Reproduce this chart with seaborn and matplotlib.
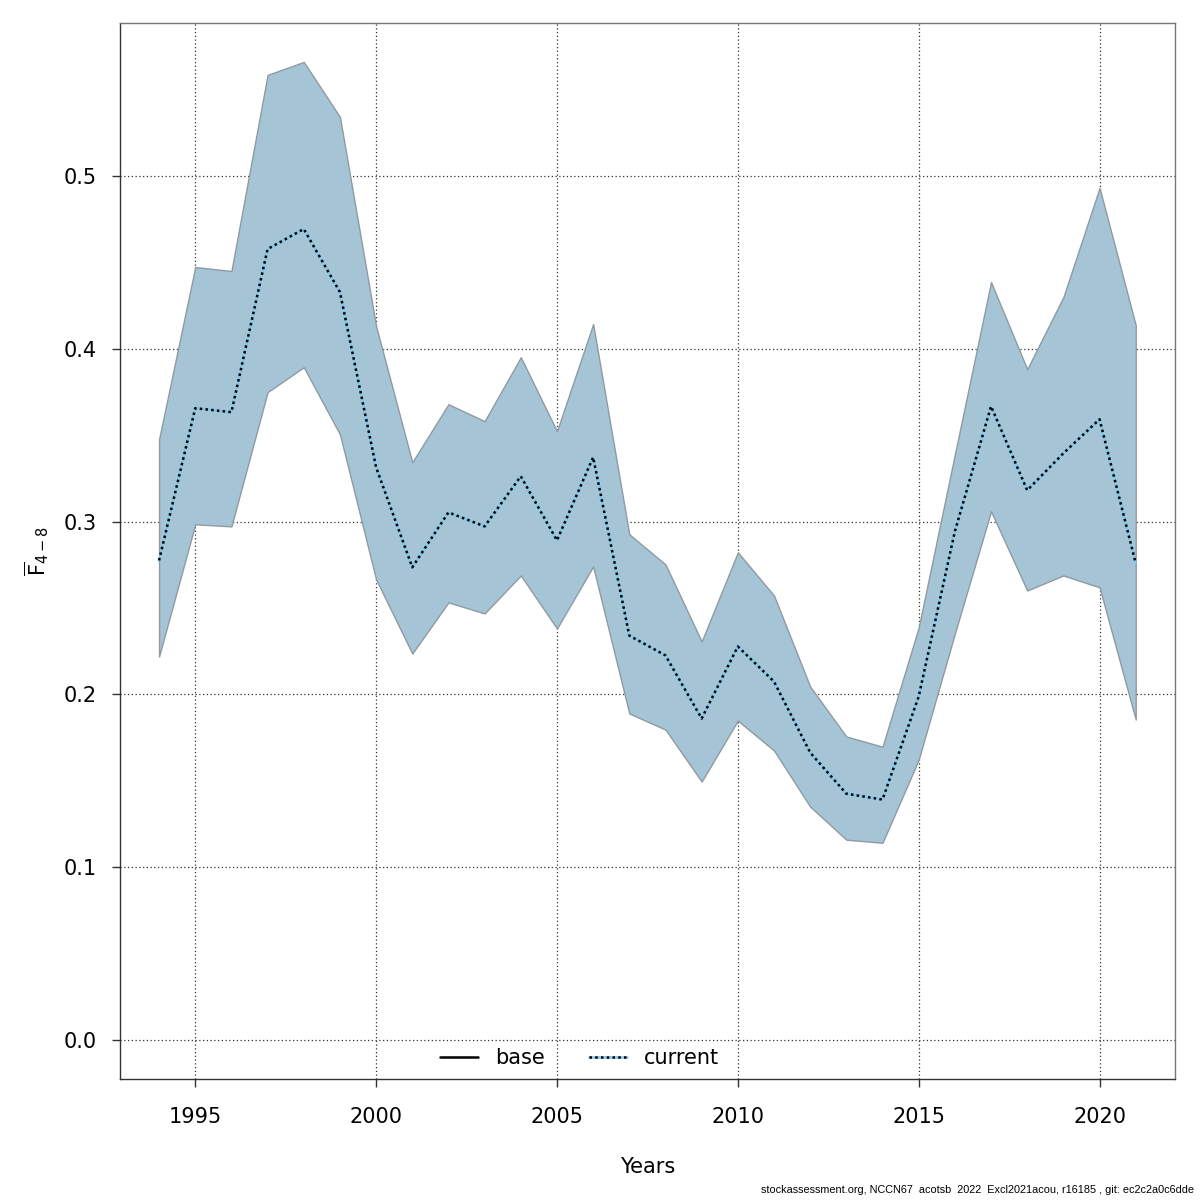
import numpy as np
import pandas as pd
import matplotlib
matplotlib.use("Agg")
import matplotlib.pyplot as plt
import seaborn as sns
from matplotlib.lines import Line2D

years = list(range(1994, 2022))
median = [0.2775, 0.3656, 0.3633, 0.4577, 0.4693, 0.4328, 0.3314, 0.2735,
          0.3053, 0.2972, 0.3262, 0.2891, 0.3372, 0.2340, 0.2225, 0.1860,
          0.2277, 0.2074, 0.1663, 0.1425, 0.1391, 0.1987, 0.2943, 0.3667,
          0.3181, 0.3395, 0.3592, 0.2758]
upper = [0.3476, 0.4473, 0.4450, 0.5585, 0.5660, 0.5342, 0.4131, 0.3343,
         0.3679, 0.3581, 0.3951, 0.3523, 0.4143, 0.2926, 0.2752, 0.2306,
         0.2822, 0.2572, 0.2045, 0.1756, 0.1697, 0.2387, 0.3389, 0.4386,
         0.3882, 0.4299, 0.4931, 0.4137]
lower = [0.2219, 0.2984, 0.2972, 0.3749, 0.3893, 0.3505, 0.2665, 0.2236,
         0.2532, 0.2468, 0.2688, 0.2381, 0.2740, 0.1889, 0.1796, 0.1495,
         0.1848, 0.1675, 0.1350, 0.1159, 0.1141, 0.1622, 0.2352, 0.3059,
         0.2601, 0.2688, 0.2619, 0.1854]
xticks = [1995, 2000, 2005, 2010, 2015, 2020]
yticks = [0.0, 0.1, 0.2, 0.3, 0.4, 0.5]

df = pd.DataFrame({"year": years, "median": median, "upper": upper, "lower": lower})

sns.set_theme(style="white")
plt.rcParams['font.family'] = ['DejaVu Sans']
plt.rcParams['text.color'] = 'black'
plt.rcParams['axes.labelcolor'] = 'black'

fig = plt.figure(figsize=(12, 12), dpi=100)
ax = fig.add_axes([0.1, 0.1008, 0.879, 0.8802])

ax.fill_between(df["year"], df["lower"], df["upper"], facecolor="#a5c4d5",
                edgecolor="#8f9ba3", linewidth=1.0, zorder=2)
sns.lineplot(data=df, x="year", y="median", ax=ax, color="#7ec8ea",
             linewidth=1.8, zorder=3, legend=False)
sns.lineplot(data=df, x="year", y="median", ax=ax, color="black",
             linewidth=1.8, linestyle=(0, (1.0, 1.3)), zorder=4, legend=False)

xmin, xmax = 1994 - 0.04 * 27, 2021 + 0.04 * 27
ymax_data = max(upper)
ax.set_xlim(xmin, xmax)
ax.set_ylim(-0.04 * ymax_data, ymax_data * 1.04)

ax.set_xticks(xticks)
ax.set_xticklabels([str(v) for v in xticks])
ax.set_yticks(yticks)
ax.set_yticklabels([f"{v:.1f}" for v in yticks])
ax.tick_params(axis="both", which="major", labelsize=15, length=6, width=1,
               direction="out", color="#333333", labelcolor="black",
               bottom=True, left=True)
ax.tick_params(axis="x", pad=14)
ax.tick_params(axis="y", pad=11)

ax.grid(True, color="#333333", linestyle=(0, (1, 2)), linewidth=0.9, zorder=1)
ax.set_axisbelow(True)

for side in ["left", "bottom"]:
    ax.spines[side].set_color("#333333")
    ax.spines[side].set_linewidth(1.0)
for side in ["top", "right"]:
    ax.spines[side].set_color("#777777")
    ax.spines[side].set_linewidth(1.0)
    ax.spines[side].set_visible(True)

ax.set_xlabel("Years", fontsize=15, labelpad=22)
ax.set_ylabel(r"$\overline{\mathrm{F}}_{4-8}$", fontsize=15, labelpad=9)

h_base = Line2D([], [], color="black", linewidth=1.8)
h_cur_bg = Line2D([], [], color="#7ec8ea", linewidth=1.8)
h_cur_fg = Line2D([], [], color="black", linewidth=1.8, linestyle=(0, (1.0, 1.3)))
leg = ax.legend([h_base, (h_cur_bg, h_cur_fg)], ["base", "current"],
                loc="center", bbox_to_anchor=(0.436, 0.020), ncol=2,
                frameon=False, fontsize=15, handlelength=1.8,
                columnspacing=2.1, handletextpad=0.85)

fig.text(0.995, 0.004, "stockassessment.org, NCCN67  acotsb  2022  Excl2021acou, r16185 , git: ec2c2a0c6dde",
         ha="right", va="bottom", fontsize=7.8, family=["Liberation Sans", "DejaVu Sans"])

fig.savefig("out.png", dpi=100)
